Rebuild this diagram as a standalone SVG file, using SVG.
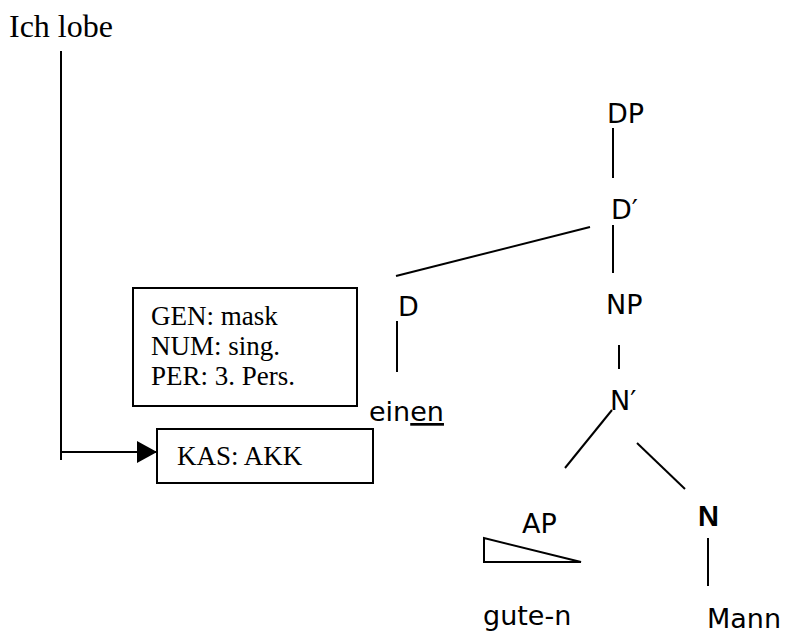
<svg xmlns="http://www.w3.org/2000/svg" width="785" height="635" viewBox="0 0 785 635">
<defs>
<style>
.serif{font-family:"Liberation Serif","Times New Roman",serif;fill:#000}
.sans{font-family:"DejaVu Sans","Liberation Sans",sans-serif;fill:#000;font-size:27px}
.ln{stroke:#000;stroke-width:2;fill:none}
.box{stroke:#000;stroke-width:2;fill:#fff}
</style>
<marker id="arr" markerWidth="20" markerHeight="22" refX="20" refY="11" orient="auto" markerUnits="userSpaceOnUse">
<path d="M0,0 L20,11 L0,22 Z" fill="#000"/>
</marker>
</defs>
<rect width="785" height="635" fill="#fff"/>

<g id="ich-lobe"><text class="serif" x="9" y="37" font-size="32">Ich lobe</text></g>

<g id="features">
<rect class="box" x="133" y="288" width="224" height="118"/>
<text class="serif" font-size="27" x="151" y="325">GEN: mask</text>
<text class="serif" font-size="27" x="151" y="355">NUM: sing.</text>
<text class="serif" font-size="27" x="151" y="385">PER: 3. Pers.</text>
</g>

<g id="kas">
<rect class="box" x="157" y="429" width="216" height="54"/>
<text class="serif" font-size="27" x="177" y="465">KAS: AKK</text>
</g>

<g id="DP"><text class="sans" x="607" y="123">DP</text></g>
<g id="Dbar"><text class="sans" x="611" y="219">D′</text></g>
<g id="D"><text class="sans" x="398" y="316">D</text></g>
<g id="NP"><text class="sans" x="606" y="314">NP</text></g>
<g id="einen"><text class="sans" x="369" y="421" font-size="29">ein<tspan text-decoration="underline">en</tspan></text></g>
<g id="Nbar"><text class="sans" x="610" y="410">N′</text></g>
<g id="AP">
<text class="sans" x="522" y="533">AP</text>
<path class="ln" d="M484,538 L484,562 L581,562 Z"/>
</g>
<g id="N"><text x="698" y="526" font-family="Liberation Sans, Arial, sans-serif" font-weight="bold" font-size="29">N</text></g>
<g id="guten"><text class="sans" x="483" y="625" font-size="28">gute-n</text></g>
<g id="Mann"><text class="sans" x="707" y="628" font-size="28.5">Mann</text></g>

<g id="connectors">
<line class="ln" x1="61" y1="51" x2="61" y2="460"/>
<line class="ln" x1="61" y1="452" x2="157" y2="452" marker-end="url(#arr)"/>
<line class="ln" x1="613" y1="128" x2="613" y2="178"/>
<line class="ln" x1="613" y1="225" x2="613" y2="273"/>
<line class="ln" x1="590" y1="227" x2="396" y2="276"/>
<line class="ln" x1="397" y1="321" x2="397" y2="372"/>
<line class="ln" x1="619" y1="345" x2="619" y2="369"/>
<line class="ln" x1="612" y1="410" x2="565" y2="468"/>
<line class="ln" x1="637" y1="443" x2="685" y2="489"/>
<line class="ln" x1="708" y1="538" x2="708" y2="586"/>
</g>
</svg>
